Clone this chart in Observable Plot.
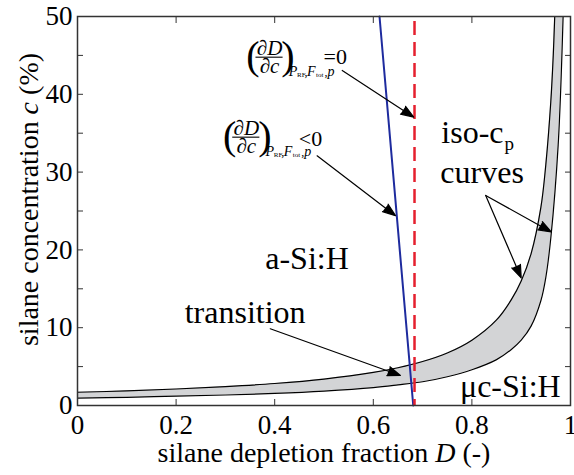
<!DOCTYPE html>
<html><head><meta charset="utf-8">
<script src="https://cdn.jsdelivr.net/npm/d3@7"></script>
<script src="https://cdn.jsdelivr.net/npm/@observablehq/plot@0.6"></script>
<style>body{margin:0;background:#fff}#chart svg{display:block}</style>
</head><body><div id="chart"></div>
<script>
// iso-c_p band: upper and lower curves (paired by index)
const upperD = [0, 0.1, 0.2, 0.3, 0.4, 0.5, 0.6, 0.65, 0.7, 0.75, 0.8, 0.85, 0.88, 0.9, 0.92, 0.94, 0.95, 0.96, 0.965, 0.968];
const upperC = [1.7, 1.88, 2.12, 2.43, 2.83, 3.4, 4.25, 4.85, 5.65, 6.75, 8.4, 11.0, 13.6, 16.0, 19.5, 25.5, 31, 39, 45, 50];
const lowerD = [0, 0.1, 0.2, 0.3, 0.4, 0.5, 0.6, 0.65, 0.7, 0.75, 0.8, 0.85, 0.88, 0.9, 0.92, 0.94, 0.95, 0.96, 0.975, 0.985];
const lowerC = [0.94, 1.05, 1.2, 1.35, 1.55, 1.85, 2.3, 2.65, 3.05, 3.7, 4.6, 5.9, 7.2, 8.4, 10.2, 13.5, 16.5, 21.5, 33.5, 50];
// (dD/dc) < 0 line (blue) and (dD/dc) = 0 line (red dashed)
const blueD = [0.6126, 0.681];
const blueC = [50, 0];
const redD = [0.6836];
// axes
const xTicks = [0, 0.2, 0.4, 0.6, 0.8, 1];
const xTickLabels = ["0", "0.2", "0.4", "0.6", "0.8", "1"];
const yTicks = [0, 10, 20, 30, 40, 50];
const yTickLabels = ["0", "10", "20", "30", "40", "50"];
const yMinorTicks = [0, 5, 10, 15, 20, 25, 30, 35, 40, 45, 50];
const xTitle = "silane depletion fraction D (-)";
const yTitle = "silane concentration c (%)";
// region labels
const labelText = ["a-Si:H", "transition", "μc-Si:H", "iso-c", "curves"];
const labelD = [0.4655, 0.34, 0.878, 0.738, 0.736];
const labelC = [17.6, 10.54, 1.07, 33.7, 28.66];
const labelAnchor = ["middle", "middle", "middle", "start", "start"];
// arrows
const arrowD1 = [0.537, 0.486, 0.828, 0.828, 0.391];
const arrowC1 = [43.06, 32.1, 27.0, 27.0, 9.86];
const arrowD2 = [0.682, 0.645, 0.961, 0.900, 0.655];
const arrowC2 = [37.06, 24.4, 22.3, 16.4, 3.86];
// derivative formula annotations
const formulaD = [0.3895, 0.3424];
const formulaC = [44.77, 34.49];
const formulaRel = ["=0", "<0"];

const band = upperD.map((d, i) => ({ux: d, uy: upperC[i], lx: lowerD[i], ly: lowerC[i]}));
const upper = upperD.map((d, i) => ({x: d, y: upperC[i]}));
const lower = lowerD.map((d, i) => ({x: d, y: lowerC[i]}));
const blue = blueD.map((d, i) => ({x: d, y: blueC[i]}));
const labels = labelText.map((t, i) => ({t, x: labelD[i], y: labelC[i], a: labelAnchor[i]}));
const arrows = arrowD1.map((d, i) => ({x1: d, y1: arrowC1[i], x2: arrowD2[i], y2: arrowC2[i]}));

const FONT = "'Liberation Serif', 'Times New Roman', serif";
const CURVE = "catmull-rom";

function formulaMarks(i) {
  const d = [{x: formulaD[i], y: formulaC[i]}];
  const relDx = i === 0 ? 54 : 52.5, relDy = i === 0 ? 6.7 : 9.3;
  const t = (text, o) => Plot.text(d, {x: "x", y: "y", text: () => text, fill: "black", lineAnchor: "bottom", textAnchor: "start", ...o});
  return [
    t("∂D", {textAnchor: "middle", dy: -2.5, fontSize: 21, fontStyle: "italic"}),
    t("∂c", {textAnchor: "middle", dy: 15.5, fontSize: 21, fontStyle: "italic"}),
    Plot.ruleY(d, {y: "y", x1: (p) => p.x - 0.0275, x2: (p) => p.x + 0.0275, stroke: "black", strokeWidth: 1.1}),
    t("(", {textAnchor: "middle", dx: -16.7, dy: 12, fontSize: 40}),
    t(")", {textAnchor: "middle", dx: 18.5, dy: 12, fontSize: 40}),
    t("P", {dx: 19.3, dy: 18.5, fontSize: 14, fontStyle: "italic"}),
    t("RF", {dx: 27.5, dy: 19.5, fontSize: 7}),
    t(",", {dx: 35, dy: 18.5, fontSize: 12}),
    t("F", {dx: 37.5, dy: 18.5, fontSize: 14, fontStyle: "italic"}),
    t("tot", {dx: 46.5, dy: 19.5, fontSize: 7}),
    t(",", {dx: 55, dy: 18.5, fontSize: 12}),
    t("p", {dx: 58, dy: 18.5, fontSize: 14, fontStyle: "italic"}),
    t(formulaRel[i], {dx: relDx, dy: relDy, fontSize: 22})
  ];
}

const plot = Plot.plot({
  width: 574, height: 475,
  marginLeft: 77, marginRight: 4, marginTop: 16, marginBottom: 70,
  x: {domain: [0, 1]},
  y: {domain: [0, 50]},
  style: {fontFamily: FONT, background: "white", color: "black", overflow: "visible"},
  marks: [
    Plot.area(band, {x1: "ux", y1: "uy", x2: "lx", y2: "ly", fill: "#d3d4d6", curve: CURVE, clip: true}),
    Plot.line(upper, {x: "x", y: "y", stroke: "black", strokeWidth: 1.2, curve: CURVE, clip: true}),
    Plot.line(lower, {x: "x", y: "y", stroke: "black", strokeWidth: 1.2, curve: CURVE, clip: true}),
    Plot.line(blue, {x: "x", y: "y", stroke: "#1e2b9e", strokeWidth: 2}),
    Plot.ruleX(redD, {stroke: "#e5202e", strokeWidth: 2.5, strokeDasharray: "14,7", strokeDashoffset: -5}),
    Plot.arrow(arrows, {x1: "x1", y1: "y1", x2: "x2", y2: "y2", stroke: "black", fill: "black", strokeWidth: 1.2, headLength: 17, headAngle: 40}),
    Plot.text(labels.filter(l => l.a === "middle"), {x: "x", y: "y", text: "t", fontSize: 32, textAnchor: "middle", lineAnchor: "bottom", fill: "black"}),
    Plot.text(labels.filter(l => l.a === "start"), {x: "x", y: "y", text: "t", fontSize: 32, textAnchor: "start", lineAnchor: "bottom", fill: "black"}),
    ...formulaMarks(0),
    ...formulaMarks(1),
    Plot.axisX(xTicks, {anchor: "bottom", tickSize: -6, tickFormat: () => "", label: null, stroke: "#333"}),
    Plot.axisX(xTicks, {anchor: "top", tickSize: -6, tickFormat: () => "", label: null, stroke: "#333"}),
    Plot.axisY(yMinorTicks, {anchor: "left", tickSize: -6, tickFormat: () => "", label: null, stroke: "#333"}),
    Plot.axisY(yMinorTicks, {anchor: "right", tickSize: -6, tickFormat: () => "", label: null, stroke: "#333"}),
    Plot.axisX(xTicks, {anchor: "bottom", tickSize: 0, tickPadding: 9, fontSize: 27, tickFormat: (d, i) => xTickLabels[i], label: null, fill: "black"}),
    Plot.axisY(yTicks, {anchor: "left", tickSize: 0, tickPadding: 5, fontSize: 27, tickFormat: (d, i) => yTickLabels[i], label: null, fill: "black"}),
    Plot.frame({stroke: "#333", strokeWidth: 1.5}),
    Plot.text([xTitle], {frameAnchor: "bottom", text: d => d, dy: 56.5, fontSize: 28, textAnchor: "middle", lineAnchor: "bottom", fill: "black"}),
    Plot.text([yTitle], {frameAnchor: "left", text: d => d, dx: -40, dy: -11.5, rotate: -90, fontSize: 28, textAnchor: "middle", lineAnchor: "bottom", fill: "black"})
  ]
});

// italic variable letters inside axis titles, subscript p for iso-c_p
d3.select(plot).selectAll("text").each(function () {
  const s = this.textContent;
  const el = d3.select(this);
  if (s === "iso-c") {
    el.append("tspan").attr("font-size", 19).attr("dy", 7).attr("dx", 1).text("p");
    return;
  }
  let parts = null;
  if (s === xTitle) parts = ["silane depletion fraction ", "D", " (-)"];
  if (s === yTitle) parts = ["silane concentration ", "c", " (%)"];
  if (!parts) return;
  el.text(null);
  parts.forEach((p, k) => el.append("tspan").attr("font-style", k === 1 ? "italic" : null).text(p));
});
d3.select(plot).selectAll("g[aria-label=arrow] path").attr("fill", "black");
document.getElementById("chart").appendChild(plot);
</script>
</body></html>
